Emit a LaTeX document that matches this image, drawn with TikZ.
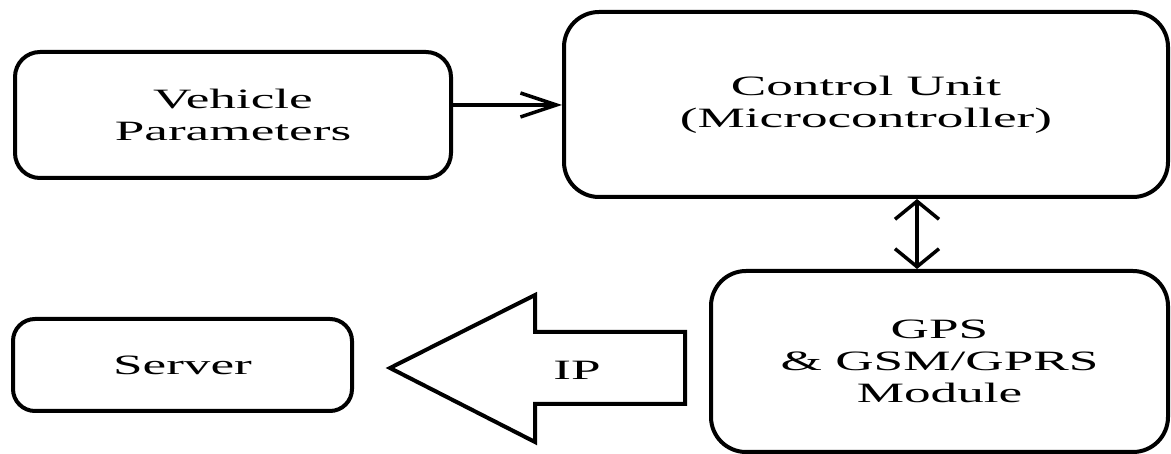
\documentclass[tikz,border=0pt]{standalone}
\usepackage{fontspec}
\setmainfont[FakeStretch=1.9]{Liberation Serif}
\usetikzlibrary{arrows.meta}

\begin{document}
\begin{tikzpicture}[x=1pt,y=-1pt,
        block/.style={draw,line width=4pt,rounded corners=30pt,align=center,
            font=\fontsize{28}{32}\selectfont},
        link/.style={line width=3.5pt}]
        \useasboundingbox (0,0) rectangle (1171,454);

        \node[block,minimum width=436pt,minimum height=126pt,rounded corners=25pt] (veh) at (233,115) {Vehicle\\Parameters};
        \node[block,minimum width=604pt,minimum height=185pt,rounded corners=35pt] (ctrl) at (866,104.5) {Control Unit\\(Microcontroller)};
        \node[block,minimum width=457pt,minimum height=181pt,rounded corners=35pt] (gps) at (939.5,361.5) {GPS\\\& GSM/GPRS\\Module};
        \node[block,minimum width=339pt,minimum height=92pt,rounded corners=22pt] (srv) at (182.5,365) {Server};

        \coordinate (vout) at ([yshift=10pt]veh.east);
        \coordinate (cdown) at ([xshift=51pt]ctrl.south);

        \draw[link,-{Straight Barb[length=36pt,width=24pt]}] (vout) -- (vout -| ctrl.west);
        \draw[link,{Straight Barb[length=18pt,width=44pt]}-{Straight Barb[length=18pt,width=44pt]}] (cdown) -- (cdown |- gps.north);

        % big arrow towards the server
        \draw[line width=4pt,line join=miter] (685,332) -- (535,332) -- (535,295) -- (390,368)
            -- (535,442) -- (535,404) -- (685,404) -- cycle;
        \node[font=\fontsize{28}{32}\selectfont] (ip) at (577,370) {IP};
\end{tikzpicture}
\end{document}
